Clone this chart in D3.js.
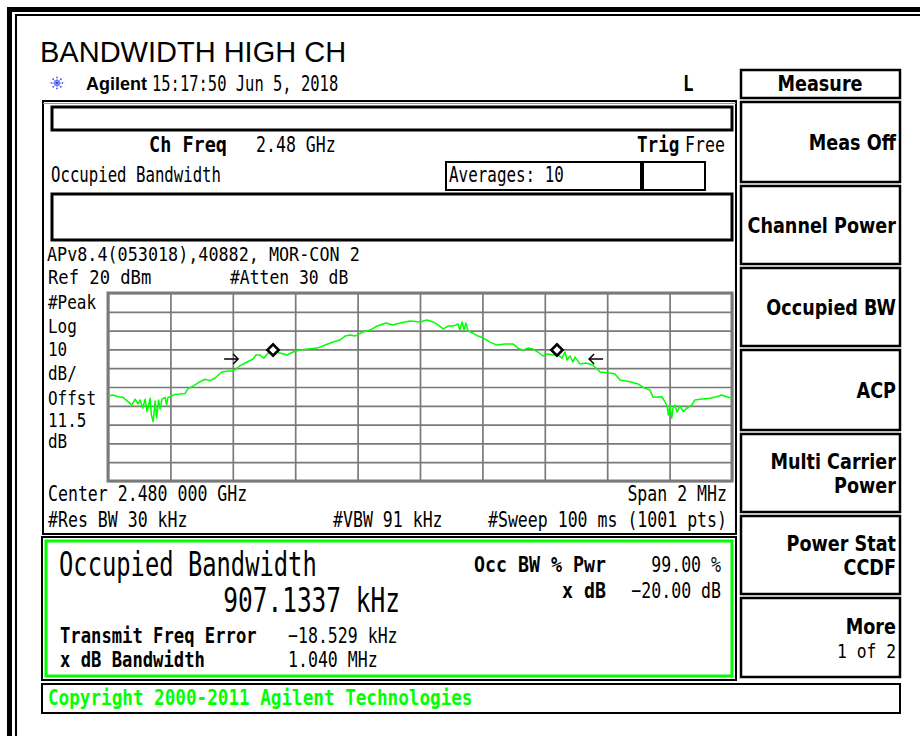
<!DOCTYPE html>
<html>
<head>
<meta charset="utf-8">
<script src="https://cdn.jsdelivr.net/npm/d3@7"></script>
<style>
  html, body { margin: 0; padding: 0; background: #fff; }
  svg { display: block; }
</style>
</head>
<body>
<div id="screen"></div>
<script>
// spectrum trace, offsets from the 2.480 GHz centre (MHz) and level (dBm)
var centerMHz = 2480;
var traceOffsetMHz = [
    -1.000, -0.984, -0.968, -0.952, -0.936, -0.924, -0.913, -0.904, -0.897, -0.889,
    -0.881, -0.875, -0.865, -0.861, -0.855, -0.849, -0.844, -0.838, -0.833, -0.827,
    -0.817, -0.812, -0.808, -0.801, -0.785, -0.769, -0.753, -0.743, -0.727, -0.705,
    -0.689, -0.673, -0.657, -0.635, -0.615, -0.599, -0.577, -0.554, -0.535, -0.526,
    -0.513, -0.500, -0.487, -0.471, -0.449, -0.426, -0.407, -0.385, -0.359, -0.330,
    -0.304, -0.279, -0.256, -0.240, -0.224, -0.208, -0.183, -0.160, -0.144, -0.128,
    -0.109, -0.087, -0.064, -0.032, 0.000, 0.022, 0.042, 0.058, 0.074, 0.090,
    0.106, 0.122, 0.128, 0.135, 0.141, 0.147, 0.154, 0.170, 0.186, 0.202,
    0.224, 0.247, 0.272, 0.298, 0.314, 0.330, 0.346, 0.362, 0.378, 0.394,
    0.410, 0.426, 0.442, 0.455, 0.465, 0.471, 0.481, 0.490, 0.497, 0.513,
    0.532, 0.554, 0.577, 0.609, 0.625, 0.641, 0.673, 0.699, 0.715, 0.737,
    0.747, 0.775, 0.785, 0.792, 0.796, 0.801, 0.807, 0.811, 0.817, 0.824,
    0.833, 0.844, 0.855, 0.871, 0.881, 0.897, 0.929, 0.951, 0.967, 0.983,
    1.000
];
var traceDbm = [
    -34.8, -34.3, -35.2, -35.5, -37.8, -39.6, -36.5, -39.0, -36.9, -41.2,
    -36.5, -43.1, -36.0, -44.9, -48.5, -37.4, -46.5, -36.9, -41.7, -36.5,
    -35.5, -39.6, -35.6, -35.2, -33.9, -33.7, -33.4, -30.7, -29.5, -27.2,
    -25.9, -26.6, -25.2, -22.0, -21.5, -21.5, -18.8, -16.7, -15.1, -13.0,
    -13.0, -14.6, -11.9, -11.4, -11.9, -13.0, -11.4, -10.3, -9.8, -9.3,
    -7.7, -6.1, -5.0, -2.9, -2.3, -2.9, -0.7, 0.3, 1.9, 3.0,
    4.0, 3.0, 4.0, 5.1, 4.6, 5.6, 4.6, 3.0, 0.9, 2.4,
    2.4, 3.5, 0.3, 4.6, 0.3, 4.0, -0.2, -1.3, -2.9, -3.9,
    -6.1, -7.7, -7.1, -7.1, -9.3, -10.3, -9.3, -9.8, -11.4, -13.5,
    -12.4, -13.0, -13.0, -14.6, -11.4, -15.6, -13.5, -16.7, -14.1, -17.8,
    -17.2, -18.3, -22.0, -22.6, -23.1, -26.3, -27.2, -28.4, -30.2, -31.6,
    -35.5, -35.2, -37.8, -40.1, -44.9, -39.6, -46.6, -41.2, -39.6, -43.3,
    -40.1, -43.1, -41.3, -39.6, -36.9, -36.5, -36.0, -35.2, -34.3, -35.2,
    -36.0
];

// occupied bandwidth markers (diamonds) and x dB arrows
var obwMarkerOffsetMHz = [-0.471, 0.439];
var obwMarkerDbm = [-10.3, -10.3];
var arrowOffsetMHz = [-0.583, 0.542];
var arrowDbm = [-15.1, -15.1];
var arrowDir = [1, -1];

// grid
var refLevelDbm = 20;
var dbPerDiv = 10;
var spanMHz = 2;
var divisions = 10;

// left annotation next to the graticule
var scaleLabels = ["#Peak", "Log", "10", "dB/", "Offst", "11.5", "dB"];

// softkeys on the right
var softkeyTitles = [
    ["Meas Off"],
    ["Channel Power"],
    ["Occupied BW"],
    ["ACP"],
    ["Multi Carrier", "Power"],
    ["Power Stat", "CCDF"],
    ["More", "1 of 2"]
];

// result panel
var resultTitle = "Occupied Bandwidth";
var resultValue = "907.1337 kHz";
var resultRightLabels = ["Occ BW % Pwr", "x dB"];
var resultRightValues = ["99.00 %", "\u221220.00 dB"];
var resultLowLabels = ["Transmit Freq Error", "x dB Bandwidth"];
var resultLowValues = ["\u221218.529 kHz", "1.040 MHz"];

var MONO = "'DejaVu Sans Mono', monospace";
var SANS_BOLD = "'DejaVu Sans', sans-serif";
var ARIAL = "'Liberation Sans', Arial, sans-serif";
var GREEN = "#00ff00";

// instrument font: tall and narrow
var REG = { size: 21.5, sx: 0.77 };
var BOLD = { size: 21.5, sx: 0.82, bold: true };

var width = 920;
var height = 736;

var svg = d3.select("#screen").append("svg")
    .attr("width", width)
    .attr("height", height);

svg.append("rect").attr("width", width).attr("height", height).attr("fill", "#fff");

function label(g, x, y, s, o) {
    o = o || {};
    return g.append("text")
        .attr("transform", "translate(" + x + "," + y + ") scale(" + (o.sx || 1) + ",1)")
        .attr("font-family", o.family || MONO)
        .attr("font-size", o.size || 20)
        .attr("font-weight", o.bold ? "bold" : "normal")
        .attr("text-anchor", o.anchor || "start")
        .attr("fill", o.fill || "#000")
        .text(s);
}

function reg(extra) { return Object.assign({}, REG, extra || {}); }
function bold(extra) { return Object.assign({}, BOLD, extra || {}); }

function box(g, x0, y0, x1, y1, stroke, sw) {
    return g.append("rect")
        .attr("x", x0).attr("y", y0)
        .attr("width", x1 - x0).attr("height", y1 - y0)
        .attr("fill", "none")
        .attr("stroke", stroke || "#000")
        .attr("stroke-width", sw || 2);
}

// outer frame (cut off at right and bottom)
svg.append("rect").attr("x", 7).attr("y", 7).attr("width", 5).attr("height", height - 7).attr("fill", "#000");
svg.append("rect").attr("x", 7).attr("y", 7).attr("width", width - 7).attr("height", 5).attr("fill", "#000");
svg.append("rect").attr("x", 15).attr("y", 14).attr("width", 2).attr("height", height - 14).attr("fill", "#000");
svg.append("rect").attr("x", 15).attr("y", 14).attr("width", width - 15).attr("height", 2).attr("fill", "#000");

// title
label(svg, 40, 62, "BANDWIDTH HIGH CH", { family: ARIAL, size: 29 });

// Agilent spark
var spark = svg.append("g").attr("transform", "translate(57,83)");
d3.range(8).forEach(function (i) {
    var a = i * Math.PI / 4;
    spark.append("line")
        .attr("x1", Math.cos(a) * 2).attr("y1", Math.sin(a) * 2)
        .attr("x2", Math.cos(a) * 7.5).attr("y2", Math.sin(a) * 7.5)
        .attr("stroke", "#3344ee")
        .attr("stroke-width", 1.5)
        .attr("stroke-dasharray", "1.5,1.2");
});
spark.append("circle").attr("r", 1.8).attr("fill", "#3344ee");

label(svg, 86, 90, "Agilent", { family: ARIAL, size: 18, bold: true });
label(svg, 152, 91, "15:17:50  Jun 5, 2018", reg({ sx: 0.72 }));
label(svg, 683, 91, "L", bold());

// measure header
box(svg, 741, 70, 900, 98, "#000", 2.5);
label(svg, 820, 91, "Measure", { family: SANS_BOLD, bold: true, anchor: "middle", sx: 0.86, size: 20.5 });

// main display panel
box(svg, 43, 101, 736, 534, "#000", 2);
svg.append("line").attr("x1", 43).attr("x2", 736).attr("y1", 103.5).attr("y2", 103.5)
    .attr("stroke", "#999").attr("stroke-width", 1);
box(svg, 52, 107, 732, 130, "#000", 3);
label(svg, 149, 152, "Ch Freq", bold({ sx: 0.86 }));
label(svg, 256, 152, "2.48 GHz", reg());
label(svg, 637, 152, "Trig", bold());
label(svg, 685, 152, "Free", reg());
label(svg, 51, 182, "Occupied Bandwidth", reg({ sx: 0.73 }));
box(svg, 446, 162, 641, 190, "#000", 2);
box(svg, 642, 162, 705, 190, "#000", 2);
svg.append("line").attr("x1", 642).attr("x2", 642).attr("y1", 162).attr("y2", 190)
    .attr("stroke", "#000").attr("stroke-width", 4);
label(svg, 449, 182, "Averages: 10", reg({ sx: 0.74 }));
box(svg, 52, 194, 732, 240, "#000", 3);

// the tightly stacked lines use a slightly smaller size, same width
var TIGHT = { size: 19.5 };
label(svg, 47, 261, "APv8.4(053018),40882, MOR-CON 2", reg({ size: 19.5, sx: 0.86 }));
label(svg, 48, 284, "Ref 20 dBm", reg({ size: 19.5, sx: 0.88 }));
label(svg, 230, 284, "#Atten 30 dB", reg({ size: 19.5, sx: 0.84 }));

var labelY = [309, 333, 356, 380, 405, 427, 448];
scaleLabels.forEach(function (s, i) {
    label(svg, 48, labelY[i], s, reg({ size: TIGHT.size, sx: 0.82 }));
});

// graticule
var x = d3.scaleLinear()
    .domain([-spanMHz / 2, spanMHz / 2])
    .range([108, 732]);
var y = d3.scaleLinear()
    .domain([refLevelDbm - divisions * dbPerDiv, refLevelDbm])
    .range([481, 293]);

var plot = svg.append("g");

var xTicks = d3.range(divisions + 1).map(function (i) { return -spanMHz / 2 + i * spanMHz / divisions; });
var yTicks = d3.range(divisions + 1).map(function (i) { return refLevelDbm - i * dbPerDiv; });

plot.append("g")
    .attr("class", "grid")
    .attr("transform", "translate(0," + y.range()[0] + ")")
    .call(d3.axisBottom(x).tickValues(xTicks).tickSize(y.range()[1] - y.range()[0]).tickFormat(""));
plot.append("g")
    .attr("class", "grid")
    .attr("transform", "translate(" + x.range()[0] + ",0)")
    .call(d3.axisLeft(y).tickValues(yTicks).tickSize(x.range()[0] - x.range()[1]).tickFormat(""));
plot.selectAll(".grid .domain").remove();
plot.selectAll(".grid line")
    .attr("stroke", "#7a7a7a")
    .attr("stroke-width", 1.7);

plot.append("rect")
    .attr("x", x.range()[0]).attr("y", y.range()[1])
    .attr("width", x.range()[1] - x.range()[0])
    .attr("height", y.range()[0] - y.range()[1])
    .attr("fill", "none")
    .attr("stroke", "#7a7a7a")
    .attr("stroke-width", 3);

// trace
var traceData = traceOffsetMHz.map(function (f, i) { return { f: f, v: traceDbm[i] }; });
var line = d3.line()
    .x(function (d) { return x(d.f); })
    .y(function (d) { return y(d.v); });

plot.append("path")
    .datum(traceData)
    .attr("d", line)
    .attr("fill", "none")
    .attr("stroke", GREEN)
    .attr("stroke-width", 1.5)
    .attr("stroke-linejoin", "round");

// markers
var diamond = d3.symbol().type(d3.symbolSquare).size(64);
obwMarkerOffsetMHz.forEach(function (f, i) {
    plot.append("path")
        .attr("d", diamond())
        .attr("transform", "translate(" + x(f) + "," + y(obwMarkerDbm[i]) + ") rotate(45)")
        .attr("fill", "#fff")
        .attr("stroke", "#000")
        .attr("stroke-width", 2.6);
});

arrowOffsetMHz.forEach(function (f, i) {
    var tx = x(f), ty = y(arrowDbm[i]), d = arrowDir[i];
    var p = d3.path();
    p.moveTo(tx - d * 14, ty);
    p.lineTo(tx, ty);
    p.moveTo(tx - d * 5, ty - 5);
    p.lineTo(tx, ty);
    p.lineTo(tx - d * 5, ty + 5);
    plot.append("path")
        .attr("d", p.toString())
        .attr("fill", "none")
        .attr("stroke", "#000")
        .attr("stroke-width", 1.5);
});

label(svg, 48, 501, "Center 2.480 000 GHz", reg());
label(svg, 727, 501, "Span 2 MHz", reg({ anchor: "end" }));
label(svg, 48, 527, "#Res BW 30 kHz", reg());
label(svg, 333, 527, "#VBW 91 kHz", reg());
label(svg, 727, 527, "#Sweep 100 ms (1001 pts)", reg({ anchor: "end" }));

// result panel
box(svg, 42, 537, 736, 680, "#000", 2);
box(svg, 46, 541, 732, 676, GREEN, 3);
label(svg, 59, 576, resultTitle, { size: 34, sx: 0.7 });
label(svg, 400, 612, resultValue, { size: 34, sx: 0.72, anchor: "end" });
var rightY = [572, 598];
resultRightLabels.forEach(function (s, i) {
    label(svg, 606, rightY[i], s, bold({ sx: 0.85, anchor: "end" }));
    label(svg, 721, rightY[i], resultRightValues[i], reg({ anchor: "end" }));
});
var lowY = [643, 667];
resultLowLabels.forEach(function (s, i) {
    label(svg, 60, lowY[i], s, bold({ sx: 0.8 }));
    label(svg, 288, lowY[i], resultLowValues[i], reg());
});

// copyright line
box(svg, 42, 684, 900, 713, "#000", 2);
label(svg, 48, 705, "Copyright 2000-2011 Agilent Technologies", bold({ sx: 0.82, fill: GREEN }));

// softkeys
var keyTop = [102, 186, 268, 350, 434, 516, 598];
var keyBottom = [182, 264, 346, 430, 512, 594, 677];
var keyFont = { family: SANS_BOLD, bold: true, sx: 0.86, size: 20.5, anchor: "end" };
softkeyTitles.forEach(function (lines, i) {
    box(svg, 741, keyTop[i], 900, keyBottom[i], "#000", 2.5);
    var mid = (keyTop[i] + keyBottom[i]) / 2;
    if (lines.length === 1) {
        label(svg, 896, mid + 8, lines[0], keyFont);
    } else {
        var last = i === softkeyTitles.length - 1;
        label(svg, 896, mid - 4, lines[0], keyFont);
        label(svg, 896, mid + 20, lines[1], last ? reg({ anchor: "end", size: 19, sx: 0.86 }) : keyFont);
    }
});
</script>
</body>
</html>
